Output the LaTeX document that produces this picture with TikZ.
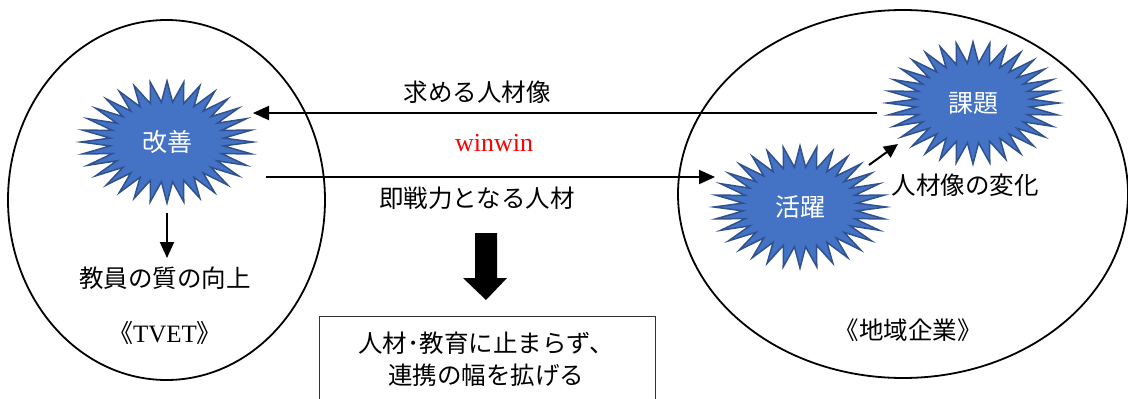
\documentclass[tikz,border=0pt]{standalone}
\usepackage{fontspec}
\setmainfont{Noto Sans CJK JP}
\newfontfamily\tnr{Liberation Serif}
\usetikzlibrary{arrows.meta,shapes.geometric}
\definecolor{burstfill}{HTML}{4472C4}
\definecolor{burstline}{HTML}{2F528F}
\newcommand\burstat[3]{%
  \draw[burstshape, shift={(#2)}] plot[samples at={0,...,63}, variable=\k]
    ({((mod(\k,2)==0) ? 86 : 57)*cos(\k*5.625)}, {((mod(\k,2)==0) ? 61 : 40)*sin(\k*5.625)}) -- cycle;
  \node[burstnode] (#1) at (#2) {#3};}
\begin{document}
\begin{tikzpicture}[x=1pt,y=-1pt,
  region/.style={ellipse, draw=black, line width=1.8pt, inner sep=0pt},
  burstnode/.style={ellipse, minimum width=172pt, minimum height=122pt, inner sep=0pt, text=white, font=\fontsize{25}{28}\selectfont},
  burstshape/.style={fill=burstfill, draw=burstline, line width=1.5pt, line join=miter},
  txt/.style={font=\fontsize{24.5}{32}\selectfont, inner sep=0pt, align=center},
  flow/.style={line width=2pt, -{Triangle[length=16pt,width=14pt]}},
]
\useasboundingbox (0,0) rectangle (1128,399);
% regions
\node[region, minimum width=317pt, minimum height=360pt] (tvetregion) at (166.5,200) {};
\node[region, minimum width=450pt, minimum height=368pt] (compregion) at (903,194) {};
% bursts
\burstat{gaizen}{167,142}{改善}
\burstat{katsuyaku}{800,207}{活躍}
\burstat{kadai}{973,103}{課題}
% texts
\node[txt] (want) at (477,92) {求める人材像};
\node[inner sep=0pt, text=red, font=\tnr\fontsize{26}{30}\selectfont] (winwin) at (494,143) {winwin};
\node[txt] (ready) at (477,198) {即戦力となる人材};
\node[txt] (quality) at (165,278) {教員の質の向上};
\node[txt, font=\fontsize{25}{28}\selectfont] (tvet) at (165,333) {《{\tnr TVET}》};
\node[txt] (company) at (908,330) {《地域企業》};
\node[txt] (change) at (965,185) {人材像の変化};
% connectors
\coordinate (a1s) at (877,113);
\coordinate (a1e) at (253,113);
\draw[flow] (a1s) -- (a1e);
\coordinate (a2s) at (266,177);
\coordinate (a2e) at (715,177);
\draw[flow] (a2s) -- (a2e);
\coordinate (qtip) at (167,258);
\draw[flow] ([yshift=-10pt]gaizen.south) -- (qtip);
\coordinate (c1) at (869,165);
\coordinate (c2) at (898,144);
\draw[line width=2pt, -{Triangle[length=14pt,width=13pt]}] (c1) -- (c2);
% block arrow
\fill[black] (475,233) -- (497,233) -- (497,278) -- (507,278) -- (486,300) -- (463,278) -- (475,278) -- cycle;
% box
\node[draw=black!80, line width=1pt, minimum width=336pt, minimum height=120pt, anchor=north] (box) at (487,316) {};
\node[txt] (boxtext) at (486,359) {人材･教育に止まらず、\\連携の幅を拡げる};
\end{tikzpicture}
\end{document}
